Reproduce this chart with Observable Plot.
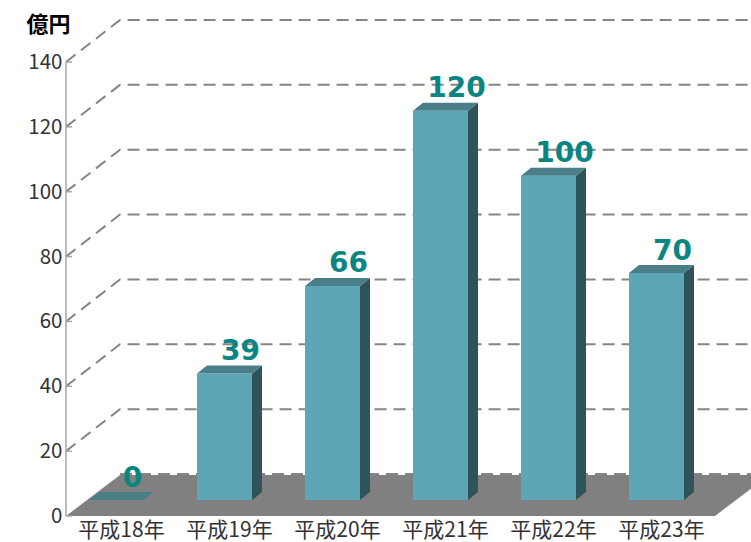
<!DOCTYPE html>
<html><head><meta charset="utf-8">
<script src="https://cdn.jsdelivr.net/npm/d3@7"></script>
<script src="https://cdn.jsdelivr.net/npm/@observablehq/plot@0.6"></script>
<style>body{margin:0;background:#fff} svg{display:block}</style>
</head><body><div id="chart"></div>
<script>
// ---- data ----
const categories = ["平成18年", "平成19年", "平成20年", "平成21年", "平成22年", "平成23年"];
const values = [0, 39, 66, 120, 100, 70];
const yTicks = [0, 20, 40, 60, 80, 100, 120, 140];
const unitLabel = "億円";

const data = categories.map((c, i) => ({year: c, value: values[i]}));

// ---- style / geometry constants ----
const depth = {dx: 54, dy: -42};     // floor / wall depth
const planeDy = -16;                 // bars stand this far back on the floor
const barDepth = {dx: 10, dy: -8};   // bar box depth
const insetL = 22, insetR = 31;
const col = {
  front: "#5ca6b5", side: "#2e5358", top: "#4a7e88",
  floor: "#808080", grid: "#858585", axis: "#a6a6a6",
  label: "#0b8581", text: "#333333"
};
const cjk = "'Noto Sans CJK JP', 'Noto Sans', sans-serif";

function poly(pts) { return "M" + pts.map(p => p.join(",")).join("L") + "Z"; }

// back wall grid, floor, y-axis line and ticks
const backLayer = (index, scales, values_, dims) => {
  const {y} = scales;
  const L = dims.marginLeft, R = dims.width - dims.marginRight, W = dims.width;
  const G = d3.create("svg:g");
  const y0 = y(0);
  for (const v of yTicks) {
    if (v === 0) continue;
    const yy = y(v);
    G.append("path")
      .attr("d", `M${L},${yy}L${L + depth.dx},${yy + depth.dy}L${W + 10},${yy + depth.dy}`)
      .attr("fill", "none").attr("stroke", col.grid).attr("stroke-width", 2)
      .attr("stroke-dasharray", "12,7");
  }
  G.append("path")
    .attr("d", poly([[L, y0], [R, y0], [R + depth.dx, y0 + depth.dy + 1], [L + depth.dx, y0 + depth.dy + 1]]))
    .attr("fill", col.floor);
  G.append("path")
    .attr("d", `M${L + depth.dx},${y0 + depth.dy}L${W + 10},${y0 + depth.dy}`)
    .attr("fill", "none").attr("stroke", col.grid).attr("stroke-width", 2)
    .attr("stroke-dasharray", "12,7");
  G.append("path")
    .attr("d", `M${L},${y(yTicks[yTicks.length - 1])}L${L},${y0}`)
    .attr("stroke", col.axis).attr("stroke-width", 1.5).attr("fill", "none");
  for (const v of yTicks) {
    G.append("path")
      .attr("d", `M${L},${y(v)}L${L + 6},${y(v)}`)
      .attr("stroke", col.axis).attr("stroke-width", 1.5);
  }
  return G.node();
};

// bar side and top faces
const boxLayer = (index, scales) => {
  const {x, y} = scales;
  const bw = typeof x.bandwidth === "function" ? x.bandwidth() : x.bandwidth;
  const G = d3.create("svg:g");
  for (const d of data) {
    const xl = x(d.year) + insetL;
    const xr = x(d.year) + bw - insetR;
    const yb = y(0) + planeDy;
    const yt = y(d.value) + planeDy;
    G.append("path")
      .attr("d", poly([[xr, yb], [xr + barDepth.dx, yb + barDepth.dy], [xr + barDepth.dx, yt + barDepth.dy], [xr, yt]]))
      .attr("fill", col.side);
    G.append("path")
      .attr("d", poly([[xl, yt], [xr, yt], [xr + barDepth.dx, yt + barDepth.dy], [xl + barDepth.dx, yt + barDepth.dy]]))
      .attr("fill", col.top);
  }
  return G.node();
};

const chart = Plot.plot({
  width: 751,
  height: 542,
  marginLeft: 66,
  marginRight: 36,
  marginTop: 62,
  marginBottom: 26,
  style: {fontFamily: cjk, color: col.text, background: "#fff", overflow: "visible"},
  x: {type: "band", domain: categories, padding: 0},
  y: {domain: [0, 140]},
  marks: [
    backLayer,
    Plot.barY(data, {x: "year", y: "value", fill: col.front, insetLeft: insetL, insetRight: insetR, dy: planeDy}),
    boxLayer,
    Plot.text(data, {
      x: "year", y: "value", text: d => String(d.value),
      dx: 11, dy: -30, lineAnchor: "bottom", textAnchor: "middle",
      fill: col.label, fontSize: 28, fontWeight: "bold", fontFamily: "'DejaVu Sans', sans-serif"
    }),
    Plot.axisY(yTicks, {tickSize: 0, tickPadding: 4, fontSize: 20.5, label: null, fill: col.text}),
    Plot.axisX({tickSize: 0, tickPadding: 6, fontSize: 21, label: null, fill: col.text}),
    Plot.text([unitLabel], {
      frameAnchor: "top-left", dx: -40, dy: -38, textAnchor: "start", lineAnchor: "middle",
      fontSize: 22, fontWeight: "bold", fill: "#000"
    })
  ]
});
document.getElementById("chart").appendChild(chart);
</script>
</body></html>
